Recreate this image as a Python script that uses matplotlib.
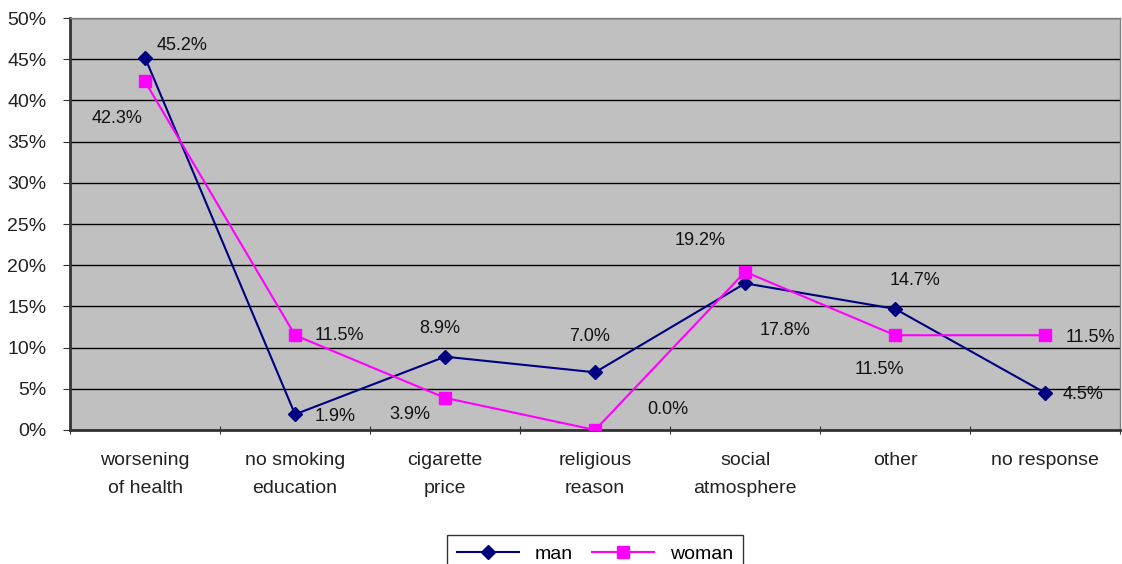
import matplotlib.pyplot as plt
from matplotlib.ticker import FuncFormatter

categories = ['worsening\nof health', 'no smoking\neducation', 'cigarette\nprice',
              'religious\nreason', 'social\natmosphere', 'other', 'no response']
man = [45.2, 1.9, 8.9, 7.0, 17.8, 14.7, 4.5]
woman = [42.3, 11.5, 3.9, 0.0, 19.2, 11.5, 11.5]

# label offsets in pixels (dx, dy) for each point
man_off = [(12, 12), (20, -2), (-26, 28), (-26, 36), (14, -47), (-6, 28), (17, -2)]
woman_off = [(-53, -37), (20, 0), (-56, -17), (52, 20), (-71, 31), (-41, -34), (20, -2)]

plt.rcParams['font.family'] = ['Liberation Sans', 'DejaVu Sans']

fig = plt.figure(figsize=(11.22, 5.64), dpi=100)
ax = fig.add_axes([0.0624, 0.2376, 0.936, 0.7304])
ax.set_facecolor('#C0C0C0')

x = list(range(len(categories)))
ax.plot(x, man, color='#000080', marker='D', markersize=7, lw=1.5, label='man', zorder=3)
ax.plot(x, woman, color='#FF00FF', marker='s', markersize=9, lw=1.5, label='woman', zorder=3)

for i in x:
    ax.annotate(f'{man[i]:.1f}%', (i, man[i]), xytext=man_off[i], textcoords='offset pixels',
                fontsize=13, ha='left', va='center', color='#111111')
    ax.annotate(f'{woman[i]:.1f}%', (i, woman[i]), xytext=woman_off[i], textcoords='offset pixels',
                fontsize=13, ha='left', va='center', color='#111111')

ax.set_xlim(-0.5, 6.5)
ax.set_ylim(0, 50)
ax.set_yticks(range(0, 51, 5))
ax.yaxis.set_major_formatter(FuncFormatter(lambda v, p: f'{v:.0f}%'))
ax.yaxis.grid(True, color='black', lw=1)
ax.set_axisbelow(True)

ax.set_xticks([i - 0.5 for i in range(8)])
ax.set_xticklabels([])
ax.set_xticks(x, minor=True)
ax.set_xticklabels(categories, minor=True, fontsize=14, linespacing=1.8, color='#222222')
ax.tick_params(axis='x', which='minor', length=0, pad=16)
ax.tick_params(axis='x', which='major', length=6, color='#333333', direction='inout')
ax.tick_params(axis='y', length=5, color='#333333', labelsize=14, labelcolor='#222222', pad=12)

for s in ['top', 'right']:
    ax.spines[s].set_color('#808080')
    ax.spines[s].set_linewidth(1)
for s in ['left', 'bottom']:
    ax.spines[s].set_color('#333333')
    ax.spines[s].set_linewidth(2)

leg = fig.legend(loc='upper center', bbox_to_anchor=(0.53, 0.068), ncol=2, fontsize=14,
                 frameon=True, fancybox=False, edgecolor='black', handlelength=3.2,
                 borderpad=0.5, columnspacing=1.0)
leg.get_frame().set_linewidth(1)

fig.savefig('out.png', dpi=100)
